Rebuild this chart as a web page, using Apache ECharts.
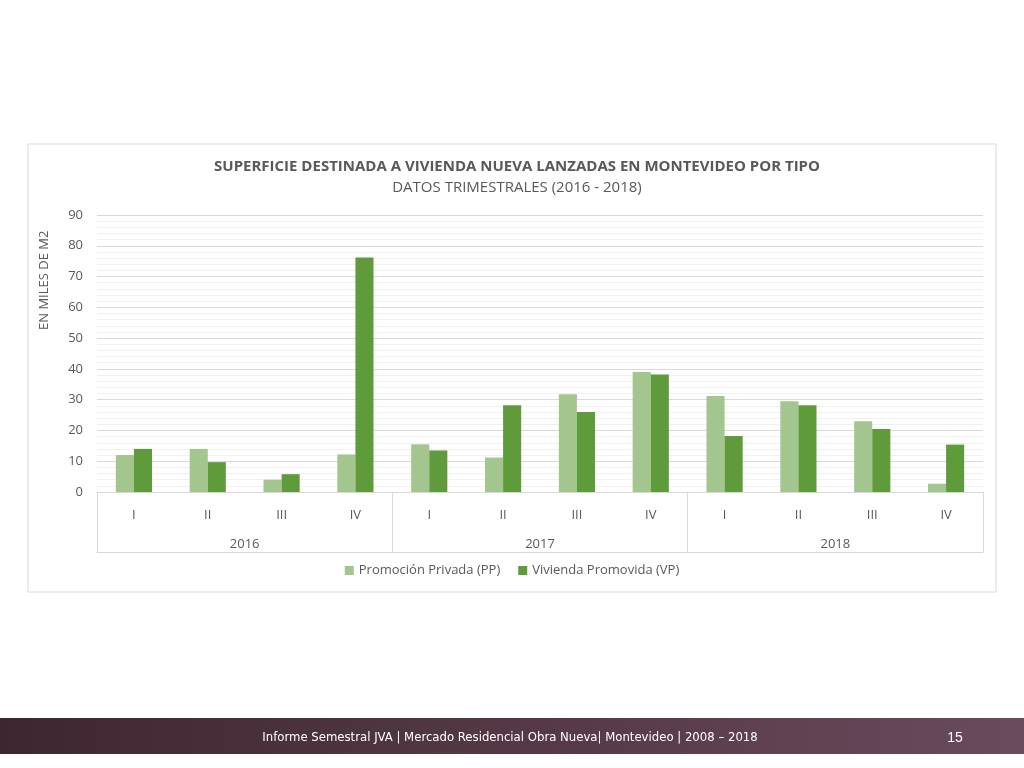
<!DOCTYPE html>
<html>
<head>
<meta charset="utf-8">
<script src="https://cdn.jsdelivr.net/npm/echarts@6/dist/echarts.min.js"></script>
<style>
html,body{margin:0;padding:0;background:#fff;}
#chart{width:1024px;height:768px;}
</style>
</head>
<body>
<div id="chart"></div>
<script>
var quarters = ['I', 'II', 'III', 'IV', 'I', 'II', 'III', 'IV', 'I', 'II', 'III', 'IV'];
var years = ['2016', '2017', '2018'];
var pp = [12, 14, 4, 12.2, 15.5, 11.2, 31.8, 39, 31.2, 29.5, 23, 2.7];
var vp = [14, 9.7, 5.8, 76.2, 13.5, 28.2, 26, 38.2, 18.2, 28.2, 20.5, 15.4];

var myChart = echarts.init(document.getElementById('chart'));
var font = 'Open Sans';
var option = {
    backgroundColor: '#fff',
    textStyle: {fontFamily: font},
    title: {
        text: 'SUPERFICIE DESTINADA A VIVIENDA NUEVA LANZADAS EN MONTEVIDEO POR TIPO',
        subtext: 'DATOS TRIMESTRALES (2016 - 2018)',
        left: 512, textAlign: 'center', top: 154, itemGap: 6,
        textStyle: {fontSize: 15, fontWeight: 'bold', color: '#595959', fontFamily: font},
        subtextStyle: {fontSize: 15, color: '#595959', fontFamily: font}
    },
    legend: {
        bottom: 186, left: 'center', itemWidth: 9, itemHeight: 9, itemGap: 18, icon: 'rect',
        textStyle: {fontSize: 13, color: '#595959', fontFamily: font}
    },
    grid: {left: 97, right: 41, top: 215, bottom: 276},
    xAxis: [{
        type: 'category', data: quarters,
        axisLine: {lineStyle: {color: '#d9d9d9'}},
        axisTick: {show: false},
        axisLabel: {color: '#595959', fontSize: 13, margin: 17}
    }, {
        type: 'category', data: years, position: 'bottom',
        axisLine: {show: false},
        axisTick: {show: true, length: 60, lineStyle: {color: '#d9d9d9'}},
        axisLabel: {color: '#595959', fontSize: 13, margin: 46}
    }, {
        type: 'category', data: years, position: 'bottom', offset: 60,
        axisLine: {lineStyle: {color: '#d9d9d9'}},
        axisTick: {show: false}, axisLabel: {show: false}
    }],
    yAxis: {
        type: 'value', min: 0, max: 90, interval: 10,
        axisLine: {show: false}, axisTick: {show: false},
        axisLabel: {color: '#595959', fontSize: 13, margin: 14},
        splitLine: {lineStyle: {color: '#d9d9d9'}},
        minorTick: {show: false, splitNumber: 5},
        minorSplitLine: {show: true, lineStyle: {color: '#f0f0f0'}}
    },
    graphic: [{
        type: 'rect', shape: {x: 28, y: 144, width: 968, height: 448},
        style: {fill: 'none', stroke: '#d9d9d9', lineWidth: 1}, z: -10
    }, {
        type: 'text', x: 38, y: 330, rotation: Math.PI / 2,
        style: {text: 'EN MILES DE M2', fill: '#595959', font: '13px "Open Sans"'}
    }, {
        type: 'rect', shape: {x: 0, y: 718, width: 1024, height: 36},
        style: {fill: new echarts.graphic.LinearGradient(0, 0, 1, 0, [
            {offset: 0, color: '#3e2630'}, {offset: 1, color: '#6a4a5d'}])}
    }, {
        type: 'text', x: 510, y: 738, style: {
            text: 'Informe Semestral JVA | Mercado Residencial Obra Nueva| Montevideo | 2008 – 2018',
            fill: '#fff', font: '13px "Liberation Sans Narrow", "DejaVu Sans Condensed", sans-serif',
            align: 'center', verticalAlign: 'middle'}
    }, {
        type: 'text', x: 955, y: 738, style: {
            text: '15', fill: '#fff', font: '14px "Liberation Sans Narrow", sans-serif',
            align: 'center', verticalAlign: 'middle'}
    }],
    series: [{
        name: 'Promoción Privada (PP)', type: 'bar', data: pp,
        barGap: '0%', barCategoryGap: '51%',
        itemStyle: {color: '#a2c68d'}
    }, {
        name: 'Vivienda Promovida (VP)', type: 'bar', data: vp,
        itemStyle: {color: '#5f9b3b'}
    }]
};
myChart.setOption(option);
</script>
</body>
</html>
